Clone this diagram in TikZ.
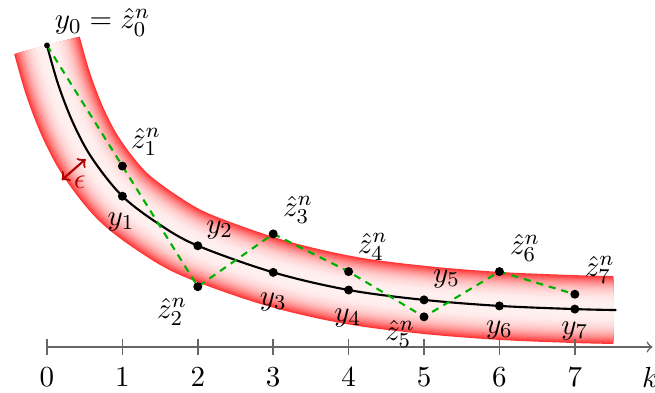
\documentclass[tikz,border=0pt,11pt]{standalone}
\newcommand\drawcurve[1]{\draw[#1] plot[smooth,tension=0.55] coordinates {(0,4) (0.15,3.478) (0.35,2.963) (0.6,2.5) (1,2) (1.5,1.62) (2,1.343) (3,0.99) (4,0.756) (5,0.625) (6,0.545) (7,0.503) (7.55,0.49)};}
\begin{document}
\begin{tikzpicture}
\useasboundingbox (-0.623,-0.597) rectangle (8.063,4.602);
\tikzset{
 dot/.style={circle,fill=black,inner sep=0pt,minimum size=3.4pt},
 smalldot/.style={circle,fill=black,inner sep=0pt,minimum size=2.2pt},
 axisline/.style={draw=black!60,semithick},
 zline/.style={draw=green!70!black,thick,dash pattern=on 2.7pt off 2.2pt},
 curveline/.style={draw=black,thick},
 epsarrow/.style={draw=red!70!black,thick,<->},
}
% band
\begin{scope}
\clip (-1,-1) rectangle (7.51,5);
\foreach \i in {0,...,29}{
 \pgfmathsetmacro\w{0.9*(1-\i/30)}
 \pgfmathtruncatemacro\p{6+74*(1-\i/30)^3}
 \drawcurve{line width=\w cm,draw=red!\p,line cap=butt}
}
\end{scope}
% axis
\coordinate (ax0) at (0,0);
\coordinate (ax1) at (8.03,0);
\draw[axisline,->] (ax0) -- (ax1);
\foreach \k in {0,...,7}{
 \draw[axisline] (\k,-0.1) -- (\k,0.1);
 \node (t\k) at (\k,-0.4) {$\k$};
}
\node (klbl) at (8.0,-0.4) {$k$};
% curve
\drawcurve{curveline}
% points
\coordinate (y0) at (0,4);
\coordinate (y1) at (1,2);
\coordinate (y2) at (2,1.343);
\coordinate (y3) at (3,0.99);
\coordinate (y4) at (4,0.756);
\coordinate (y5) at (5,0.625);
\coordinate (y6) at (6,0.545);
\coordinate (y7) at (7,0.503);
\coordinate (z1) at (1,2.4);
\coordinate (z2) at (2,0.8);
\coordinate (z3) at (3,1.5);
\coordinate (z4) at (4,1);
\coordinate (z5) at (5,0.4);
\coordinate (z6) at (6,1);
\coordinate (z7) at (7,0.7);
\draw[zline] (y0) -- (z1) -- (z2) -- (z3) -- (z4) -- (z5) -- (z6) -- (z7);
\node[smalldot] (d0) at (y0) {};
\foreach \j in {1,...,7}{
 \node[dot] (dy\j) at (y\j) {};
 \node[dot] (dz\j) at (z\j) {};
}
% epsilon
\coordinate (ea) at (0.195,2.214);
\coordinate (eb) at (0.513,2.492);
\draw[epsarrow] (ea) -- (eb);
\node[text=red!70!black] (eps) at (0.435,2.19) {$\epsilon$};
% labels
\node (l0) at (0.736,4.302) {$y_0=\hat{z}_0^n$};
\node (lz1) at (1.312,2.718) {$\hat{z}_1^n$};
\node (ly1) at (0.981,1.657) {$y_1$};
\node (ly2) at (2.29,1.55) {$y_2$};
\node (lz2) at (1.657,0.464) {$\hat{z}_2^n$};
\node (lz3) at (3.33,1.816) {$\hat{z}_3^n$};
\node (ly3) at (3.0,0.597) {$y_3$};
\node (lz4) at (4.32,1.326) {$\hat{z}_4^n$};
\node (ly4) at (3.99,0.385) {$y_4$};
\node (ly5) at (5.30,0.90) {$y_5$};
\node (lz5) at (4.68,0.17) {$\hat{z}_5^n$};
\node (lz6) at (6.34,1.31) {$\hat{z}_6^n$};
\node (ly6) at (6.0,0.225) {$y_6$};
\node (ly7) at (7.0,0.21) {$y_7$};
\node (lz7) at (7.33,1.02) {$\hat{z}_7^n$};
\end{tikzpicture}
\end{document}
